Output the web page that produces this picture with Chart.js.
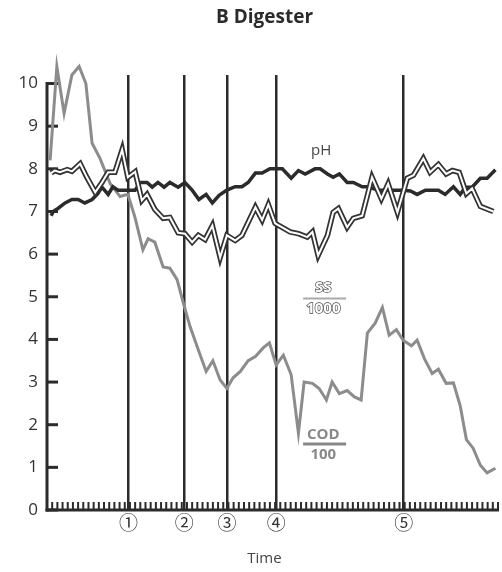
<!DOCTYPE html>
<html><head><meta charset="utf-8">
<script src="https://cdn.jsdelivr.net/npm/chart.js@4.4.1/dist/chart.umd.min.js"></script>
<style>html,body{margin:0;padding:0;background:#fff;}#wrap{width:502px;height:572px;}</style>
</head><body><div id="wrap"><canvas id="c" width="502" height="572"></canvas></div>
<script>
// Time axis in tick units (one small tick per unit)
const timeTickCount = 87;
const yTickValues = [0,1,2,3,4,5,6,7,8,9,10];

const eventTime = [15.7, 26.5, 34.7, 44.2, 68.8];
const eventLabels = ['①','②','③','④','⑤'];

const codTime = [0.6,1.9,3.3,4.8,6.2,7.5,8.7,10.2,12.2,14.1,15.6,17.0,18.5,19.5,20.8,22.4,23.7,25.1,26.3,27.6,29.2,30.7,32.0,33.4,34.7,35.9,37.3,38.8,40.2,41.7,42.9,44.2,45.6,47.1,48.5,49.6,51.2,52.5,53.9,55.0,56.4,57.9,59.3,60.6,61.8,63.3,64.7,66.0,67.4,68.7,70.3,71.4,72.8,74.3,75.5,77.0,78.4,79.7,80.9,82.2,83.6,84.9,86.5];
const codValues = [8.2,10.4,9.3,10.2,10.4,10.0,8.6,8.25,7.65,7.35,7.4,6.85,6.1,6.36,6.28,5.7,5.67,5.4,4.85,4.3,3.75,3.25,3.5,3.05,2.85,3.1,3.25,3.5,3.6,3.8,3.92,3.4,3.63,3.17,1.8,3.0,2.97,2.85,2.58,3.0,2.73,2.8,2.65,2.58,4.15,4.38,4.75,4.1,4.23,3.98,3.85,3.98,3.55,3.2,3.3,2.97,2.98,2.45,1.65,1.45,1.05,0.87,0.98];

const phTime = [0.8,1.2,2.1,3.5,4.8,6.0,7.3,8.7,9.8,10.6,11.8,12.7,13.7,15.4,17.0,18.0,19.3,20.3,21.4,22.6,23.7,25.3,26.6,28.0,29.3,30.7,31.9,33.2,34.7,36.3,37.6,38.8,40.2,41.5,43.0,45.4,47.1,48.5,49.8,51.7,52.7,54.1,55.2,56.4,57.9,59.1,60.8,62.0,63.9,68.7,70.1,71.4,73.0,75.5,76.8,78.4,79.7,80.7,82.0,83.6,84.9,86.5];
const phValues = [6.9,7.0,7.07,7.2,7.28,7.28,7.2,7.28,7.42,7.57,7.4,7.58,7.5,7.5,7.5,7.68,7.68,7.57,7.68,7.57,7.68,7.57,7.68,7.5,7.28,7.4,7.2,7.38,7.5,7.58,7.58,7.68,7.9,7.9,8.0,8.0,7.78,7.96,7.88,8.0,8.0,7.88,7.8,7.88,7.68,7.68,7.58,7.58,7.5,7.5,7.48,7.4,7.5,7.5,7.4,7.58,7.4,7.57,7.57,7.78,7.78,7.98];

const ssTime = [0.8,1.5,2.5,3.9,4.8,6.4,7.7,9.3,10.6,11.8,13.1,14.5,15.6,17.0,18.3,19.3,20.8,22.4,23.7,25.3,26.6,28.0,29.2,30.5,31.9,33.4,34.7,36.3,37.6,40.2,41.5,42.7,44.0,46.9,48.5,50.2,51.2,52.3,54.1,55.2,56.2,57.9,59.1,60.8,62.7,64.5,65.8,67.6,69.5,70.7,72.6,73.9,75.5,77.0,78.2,79.5,80.9,82.0,83.6,86.1];
const ssValues = [7.9,7.96,7.92,7.98,7.94,8.12,7.8,7.45,7.68,7.92,7.92,8.45,7.8,7.93,7.26,7.4,7.05,6.84,6.86,6.5,6.48,6.28,6.44,6.34,6.67,5.92,6.44,6.32,6.44,7.1,6.8,7.16,6.72,6.52,6.48,6.4,6.52,5.97,6.44,6.98,7.07,6.63,6.84,6.9,7.8,7.3,7.65,6.98,7.78,7.85,8.24,7.92,8.1,7.88,7.96,7.92,7.42,7.54,7.12,7.0];

const chartTitle = 'B Digester';
const timeTitle = 'Time';

function pts(t, v) { return t.map((x, i) => ({ x: x, y: v[i] })); }

const FONT = "'Open Sans', 'DejaVu Sans', sans-serif";
const CIRCLE_FONT = "'Noto Sans CJK JP', 'DejaVu Sans', sans-serif";
Chart.defaults.font.family = FONT;

const decor = {
  id: 'decor',
  beforeDatasetsDraw(chart) {
    const ctx = chart.ctx, xs = chart.scales.x, ys = chart.scales.y;
    const x0 = xs.getPixelForValue(0), y0 = ys.getPixelForValue(0);
    ctx.save();
    ctx.strokeStyle = '#2b2b2b';
    ctx.lineWidth = 3;
    ctx.beginPath();
    ctx.moveTo(x0, y0 + 1.5);
    ctx.lineTo(x0, ys.getPixelForValue(10) - 1.5);
    ctx.stroke();
    yTickValues.forEach(v => {
      const py = ys.getPixelForValue(v);
      ctx.beginPath(); ctx.moveTo(x0, py); ctx.lineTo(x0 + 11, py); ctx.stroke();
    });
    ctx.beginPath();
    ctx.moveTo(x0 - 1.5, y0);
    ctx.lineTo(xs.getPixelForValue(timeTickCount) + 1, y0);
    ctx.stroke();
    ctx.lineWidth = 2;
    for (let i = 0; i <= timeTickCount; i++) {
      const px = xs.getPixelForValue(i);
      ctx.beginPath(); ctx.moveTo(px, y0); ctx.lineTo(px, y0 - 8); ctx.stroke();
    }
    ctx.restore();
  },
  afterDatasetsDraw(chart) {
    const ctx = chart.ctx, xs = chart.scales.x, ys = chart.scales.y;
    const X = v => xs.getPixelForValue(v), Y = v => ys.getPixelForValue(v);
    const area = chart.chartArea;
    const cx = (area.left + area.right) / 2 - 8;
    ctx.save();
    ctx.textAlign = 'center';
    ctx.textBaseline = 'middle';
    // titles
    ctx.fillStyle = '#2b2b2b';
    ctx.font = "bold 19px " + FONT;
    ctx.fillText(chartTitle, cx, 18);
    ctx.fillStyle = '#444';
    ctx.font = "15px " + FONT;
    ctx.fillText(timeTitle, cx, chart.height - 13);
    // pH
    ctx.font = "15px " + FONT;
    ctx.fillStyle = '#444';
    ctx.fillText('pH', X(52.9), Y(8.43));
    // SS / 1000 (outlined)
    ctx.font = "bold 15px " + FONT;
    ctx.lineWidth = 1.3;
    ctx.strokeStyle = '#444';
    ctx.fillStyle = '#fff';
    ctx.strokeText('SS', X(53.3), Y(5.22));
    ctx.fillText('SS', X(53.3), Y(5.22));
    ctx.strokeText('1000', X(53.3), Y(4.71));
    ctx.fillText('1000', X(53.3), Y(4.71));
    ctx.strokeStyle = '#aaa';
    ctx.lineWidth = 2;
    ctx.beginPath(); ctx.moveTo(X(49.4), Y(4.96)); ctx.lineTo(X(57.7), Y(4.96)); ctx.stroke();
    // COD / 100
    ctx.fillStyle = '#888';
    ctx.fillText('COD', X(53.3), Y(1.76));
    ctx.fillText('100', X(53.3), Y(1.29));
    ctx.strokeStyle = '#888';
    ctx.lineWidth = 3;
    ctx.beginPath(); ctx.moveTo(X(49.4), Y(1.55)); ctx.lineTo(X(57.7), Y(1.55)); ctx.stroke();
    ctx.restore();
  }
};

const common = { pointRadius: 0, tension: 0, fill: false, clip: false, borderJoinStyle: 'miter' };

new Chart(document.getElementById('c'), {
  type: 'line',
  data: {
    datasets: [
      Object.assign({ label: 'SS/1000', data: pts(ssTime, ssValues), borderColor: '#ffffff', borderWidth: 2, order: 0 }, common),
      Object.assign({ label: 'SS/1000 outline', data: pts(ssTime, ssValues), borderColor: '#333333', borderWidth: 5.5, order: 1 }, common),
      Object.assign({ label: 'pH', data: pts(phTime, phValues), borderColor: '#2b2b2b', borderWidth: 3.5, order: 2 }, common),
      Object.assign({ label: 'COD/100', data: pts(codTime, codValues), borderColor: '#8c8c8c', borderWidth: 3, order: 3 }, common)
    ]
  },
  options: {
    responsive: false,
    devicePixelRatio: 1,
    animation: false,
    layout: { padding: { left: 0, right: 4, top: 75, bottom: 0 } },
    plugins: {
      legend: { display: false },
      tooltip: { enabled: false },
      title: { display: false }
    },
    scales: {
      x: {
        type: 'linear', min: 0, max: timeTickCount,
        afterBuildTicks: s => { s.ticks = eventTime.map(v => ({ value: v })); },
        afterFit: s => { s.height = 62; },
        ticks: { callback: (v, i) => eventLabels[i], font: { size: 19, family: CIRCLE_FONT }, color: '#333', padding: 1, autoSkip: false, maxRotation: 0 },
        grid: { color: '#2b2b2b', lineWidth: 2.5, drawTicks: false, drawOnChartArea: true },
        border: { display: false }
      },
      y: {
        type: 'linear', min: 0, max: 10.2,
        afterBuildTicks: s => { s.ticks = yTickValues.map(v => ({ value: v })); },
        afterFit: s => { s.width = 47; },
        ticks: { font: { size: 17 }, color: '#333', padding: 9 },
        grid: { display: false, drawTicks: false },
        border: { display: false }
      }
    }
  },
  plugins: [decor]
});
</script>
</body></html>
